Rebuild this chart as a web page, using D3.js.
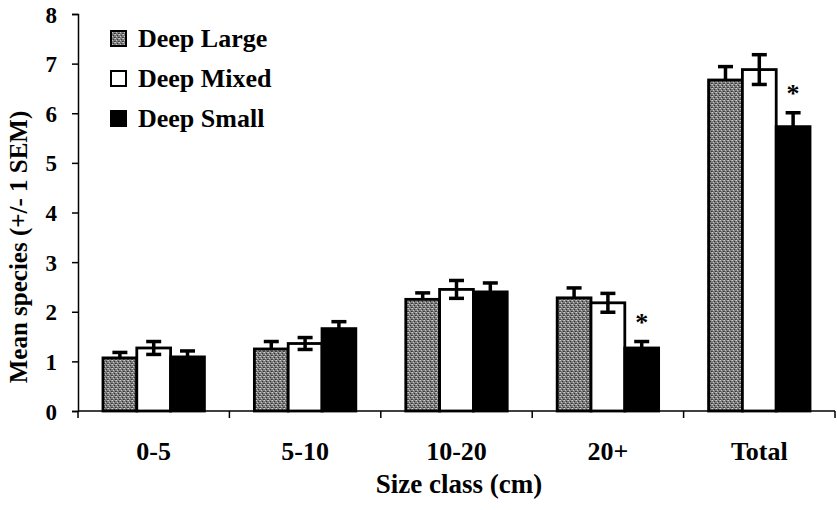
<!doctype html>
<html>
<head>
  <meta charset="utf-8">
  <title>Mean species by size class</title>
  <script src="https://cdnjs.cloudflare.com/ajax/libs/d3/7.8.5/d3.min.js"></script>
  <style>
    body { margin: 0; background: #fff; }
    text { font-family: "Liberation Serif", "Times New Roman", serif; font-weight: bold; fill: #000; }
  </style>
</head>
<body>
  <div id="chart"></div>
  <script>
    // data
    const categories = ['0-5', '5-10', '10-20', '20+', 'Total'];
    const seriesNames = ['Deep Large', 'Deep Mixed', 'Deep Small'];
    const deepLarge = [1.07, 1.25, 2.25, 2.28, 6.67];
    const deepMixed = [1.27, 1.36, 2.45, 2.18, 6.88];
    const deepSmall = [1.09, 1.66, 2.40, 1.27, 5.73];
    const semLarge = [0.11, 0.15, 0.13, 0.20, 0.27];
    const semMixed = [0.13, 0.12, 0.18, 0.19, 0.30];
    const semSmall = [0.12, 0.14, 0.18, 0.13, 0.28];
    // significance stars (series index, category)
    const stars = [{ s: 2, c: '20+' }, { s: 2, c: 'Total' }];
    const yTicks = [0, 1, 2, 3, 4, 5, 6, 7, 8];

    const means = [deepLarge, deepMixed, deepSmall];
    const sems = [semLarge, semMixed, semSmall];

    const width = 837, height = 510;
    const plotL = 78, plotR = 835, plotT = 14, plotB = 411;

    const svg = d3.select('#chart').append('svg')
      .attr('width', width)
      .attr('height', height);

    // speckled grey fill
    const defs = svg.append('defs');
    const pat = defs.append('pattern')
      .attr('id', 'speckle')
      .attr('patternUnits', 'userSpaceOnUse')
      .attr('width', 4).attr('height', 4);
    pat.append('rect').attr('width', 4).attr('height', 4).attr('fill', '#7c7c7c');
    [[0, 0, '#d0d0d0'], [2, 1, '#333'], [1, 2, '#c4c4c4'], [3, 3, '#3c3c3c'], [3, 0, '#aaa'], [0, 3, '#4a4a4a']]
      .forEach(p => pat.append('rect').attr('x', p[0]).attr('y', p[1])
        .attr('width', 1).attr('height', 1).attr('fill', p[2]));

    const fills = ['url(#speckle)', '#fff', '#000'];

    const x0 = d3.scaleBand()
      .domain(categories)
      .range([plotL, plotR])
      .paddingInner(0.33)
      .paddingOuter(0.165);

    const x1 = d3.scaleBand()
      .domain(d3.range(seriesNames.length))
      .range([0, x0.bandwidth()]);

    const y = d3.scaleLinear().domain([0, 8]).range([plotB, plotT]);

    // bars
    const rows = [];
    categories.forEach((c, ci) => {
      seriesNames.forEach((s, si) => {
        rows.push({ c, si, v: means[si][ci], e: sems[si][ci] });
      });
    });

    svg.append('g').selectAll('rect')
      .data(rows)
      .join('rect')
      .attr('x', d => x0(d.c) + x1(d.si))
      .attr('y', d => y(d.v))
      .attr('width', x1.bandwidth())
      .attr('height', d => y(0) - y(d.v))
      .attr('fill', d => fills[d.si])
      .attr('stroke', '#000')
      .attr('stroke-width', 2.8);

    // error bars: only upper half on filled bars
    const capW = 15;
    const err = svg.append('g').attr('stroke', '#000').attr('stroke-width', 3.5);
    rows.forEach(d => {
      const cx = x0(d.c) + x1(d.si) + x1.bandwidth() / 2;
      const lo = d.si === 1 ? d.v - d.e : d.v;
      err.append('line')
        .attr('x1', cx).attr('x2', cx)
        .attr('y1', y(lo)).attr('y2', y(d.v + d.e));
      err.append('line')
        .attr('x1', cx - capW / 2).attr('x2', cx + capW / 2)
        .attr('y1', y(d.v + d.e)).attr('y2', y(d.v + d.e));
      if (d.si === 1) {
        err.append('line')
          .attr('x1', cx - capW / 2).attr('x2', cx + capW / 2)
          .attr('y1', y(d.v - d.e)).attr('y2', y(d.v - d.e));
      }
    });

    // stars
    svg.append('g').selectAll('text')
      .data(stars)
      .join('text')
      .attr('x', d => x0(d.c) + x1(d.s) + x1.bandwidth() / 2)
      .attr('y', d => {
        const ci = categories.indexOf(d.c);
        return y(means[d.s][ci] + sems[d.s][ci]) - 11;
      })
      .attr('text-anchor', 'middle')
      .style('font-size', '26px')
      .text('*');

    // y axis
    const yAxis = svg.append('g')
      .attr('transform', `translate(${plotL},0)`)
      .call(d3.axisLeft(y).tickValues(yTicks).tickFormat(d3.format('d')).tickSize(6).tickPadding(15));
    yAxis.select('.domain').attr('stroke-width', 1.5);
    yAxis.selectAll('.tick line').attr('stroke-width', 1.5);
    yAxis.selectAll('text').style('font-size', '23px').attr('dy', '0.35em');

    // x axis: ticks at category boundaries
    const boundaries = categories.map(c => x0(c) - x0.step() * x0.paddingInner() / 2);
    boundaries.push(plotR);
    const xg = svg.append('g').attr('transform', `translate(0,${plotB})`);
    xg.append('line')
      .attr('x1', plotL).attr('x2', plotR)
      .attr('stroke', '#000').attr('stroke-width', 1.5);
    xg.selectAll('line.tk')
      .data(boundaries)
      .join('line')
      .attr('class', 'tk')
      .attr('x1', d => d).attr('x2', d => d)
      .attr('y1', 0).attr('y2', 7)
      .attr('stroke', '#000').attr('stroke-width', 1.5);
    xg.selectAll('text')
      .data(categories)
      .join('text')
      .attr('x', d => x0(d) + x0.bandwidth() / 2)
      .attr('y', 49)
      .attr('text-anchor', 'middle')
      .style('font-size', '26px')
      .text(d => d);

    // axis titles
    svg.append('text')
      .attr('x', 459)
      .attr('y', 493)
      .attr('text-anchor', 'middle')
      .style('font-size', '27px')
      .text('Size class (cm)');

    svg.append('text')
      .attr('transform', `translate(27,247) rotate(-90)`)
      .attr('text-anchor', 'middle')
      .style('font-size', '25px')
      .text('Mean species (+/- 1 SEM)');

    // legend
    const legend = svg.append('g').selectAll('g')
      .data(seriesNames)
      .join('g')
      .attr('transform', (d, i) => `translate(111,${38 + i * 40})`);
    legend.append('rect')
      .attr('x', 0).attr('y', -7)
      .attr('width', 15).attr('height', 15)
      .attr('fill', (d, i) => fills[i])
      .attr('stroke', '#000')
      .attr('stroke-width', 2);
    legend.append('text')
      .attr('x', 27)
      .attr('y', 0)
      .attr('dy', '0.35em')
      .style('font-size', '26px')
      .text(d => d);
  </script>
</body>
</html>
